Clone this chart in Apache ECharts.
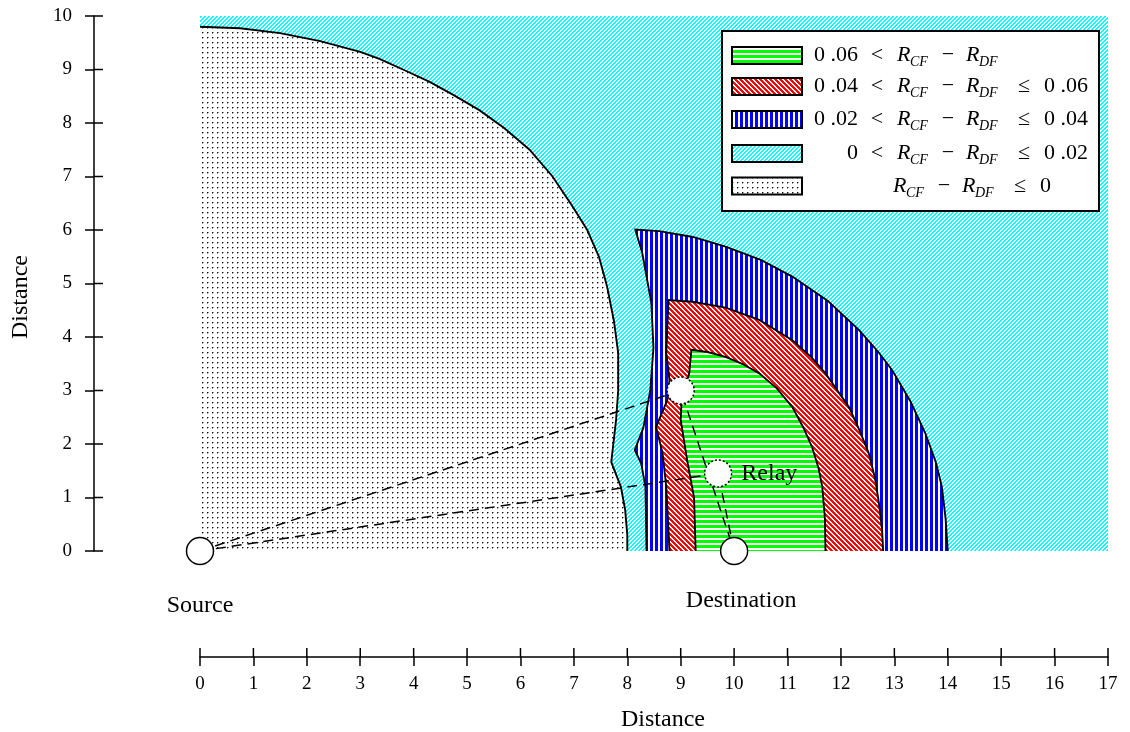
<!DOCTYPE html>
<html><head><meta charset="utf-8">
<script src="https://cdn.jsdelivr.net/npm/echarts/dist/echarts.min.js"></script>
<style>html,body{margin:0;padding:0;background:#fff}#c{width:1130px;height:732px}</style>
</head><body><div id="c"></div>
<script>
// ---------------- data ----------------
const cyanRegion = [[0,0],[0,10],[17,10],[17,0]];
const dottedRegion = [[0,0],[0,9.8],[0.75,9.77],[1.5,9.68],[2.25,9.53],[3.0,9.33],[3.36,9.2],[3.8,9.0],[4.3,8.77],[4.75,8.52],[5.23,8.24],[5.7,7.9],[6.17,7.5],[6.6,7.0],[6.97,6.45],[7.25,6.0],[7.47,5.5],[7.62,4.95],[7.75,4.3],[7.83,3.7],[7.83,3.0],[7.79,2.45],[7.70,1.66],[7.88,1.2],[7.96,0.77],[8.0,0.3],[8.0,0]];
const blueRegion = [[8.36,0],[8.34,1.2],[8.26,1.64],[8.14,1.89],[8.3,2.3],[8.43,3.0],[8.49,3.8],[8.45,4.64],[8.28,5.57],[8.15,6.01],[8.6,5.98],[9.23,5.87],[9.84,5.69],[10.5,5.44],[11.09,5.13],[11.75,4.68],[12.34,4.13],[12.7,3.72],[12.96,3.38],[13.3,2.8],[13.58,2.2],[13.78,1.65],[13.89,1.2],[13.96,0.6],[14.0,0]];
const redRegion = [[8.79,0],[8.73,1.2],[8.66,1.83],[8.54,2.32],[8.75,2.82],[8.79,3.2],[8.73,3.7],[8.77,4.69],[9.22,4.66],[9.84,4.55],[10.47,4.32],[11.09,3.94],[11.45,3.62],[11.71,3.32],[12.15,2.69],[12.35,2.25],[12.52,1.83],[12.64,1.35],[12.71,0.9],[12.77,0.4],[12.79,0]];
const greenRegion = [[9.28,0],[9.25,1.0],[9.12,1.7],[9.0,2.45],[9.02,2.88],[9.16,3.32],[9.2,3.76],[9.5,3.72],[9.84,3.63],[10.15,3.5],[10.47,3.32],[10.8,3.04],[11.09,2.69],[11.3,2.3],[11.46,1.94],[11.58,1.55],[11.65,1.2],[11.7,0.6],[11.71,0]];
const nodeX = [0, 9, 9.7, 10];
const nodeY = [0, 3, 1.45, 0];
const nodeLabels = ['Source', '', 'Relay', 'Destination'];
const nodeDashedBorder = [false, true, true, false];
const pathViaRelay1 = [[0,0],[9,3],[10,0]];
const pathViaRelay2 = [[0,0],[9.7,1.45],[10,0]];
const xTickValues = [0,1,2,3,4,5,6,7,8,9,10,11,12,13,14,15,16,17];
const yTickValues = [0,1,2,3,4,5,6,7,8,9,10];
const legendLow  = ['0 .06','0 .04','0 .02','0',''];
const legendHigh = ['','0 .06','0 .04','0 .02','0'];
const legendKeys = ['green','red','blue','cyan','dots'];
const axisTitle = 'Distance';

// ---------------- patterns ----------------
function makePattern(w, h, fn) {
  const c = document.createElement('canvas');
  c.width = w; c.height = h;
  const ctx = c.getContext('2d');
  ctx.fillStyle = '#fff'; ctx.fillRect(0, 0, w, h);
  for (let y = 0; y < h; y++) for (let x = 0; x < w; x++) {
    const col = fn(x, y);
    if (col) { ctx.fillStyle = col; ctx.fillRect(x, y, 1, 1); }
  }
  return { image: c, repeat: 'repeat' };
}
const PAT = {
  cyan: makePattern(4, 4, (x, y) => ((x + y) % 4 < 2 ? '#00ffff' : null)),
  red: makePattern(5, 5, (x, y) => (((x - y + 10) % 5) < 3 ? '#ff0000' : null)),
  blue: makePattern(5, 1, (x) => (x % 5 < 3 ? '#0000ff' : null)),
  green: makePattern(1, 5, (x, y) => (y % 5 < 3 ? '#00ff00' : null)),
  dots: makePattern(5, 5, (x, y) => (x === 2 && y === 2 ? '#111' : ((x === 3 && y === 2) || (x === 2 && y === 3)) ? '#999' : null))
};

const FONT = 'Liberation Serif';
const AX_OFFSET = 106, TICK = 9;

function regionSeries(name, pts, pattern, strokeFrom, z) {
  return {
    type: 'custom', name, data: pts, z, silent: true, clip: false,
    renderItem(params, api) {
      if (params.dataIndex !== 0) return null;
      const px = pts.map(p => api.coord(p));
      const children = [{ type: 'polygon', shape: { points: px }, style: { fill: pattern } }];
      if (strokeFrom !== null) {
        children.push({ type: 'polyline', shape: { points: px.slice(strokeFrom) },
          style: { stroke: '#000', lineWidth: 1.9, fill: null, lineJoin: 'miter' } });
      }
      return { type: 'group', children };
    }
  };
}
// inward half of the crossing ticks on the offset axes
function innerTicks(values, isX) {
  return {
    type: 'custom', data: values.map(v => (isX ? [v, 0] : [0, v])), z: 20, silent: true, clip: false,
    renderItem(params, api) {
      const p = api.coord([api.value(0), api.value(1)]);
      const shape = isX
        ? { x1: p[0], y1: p[1] + AX_OFFSET - TICK, x2: p[0], y2: p[1] + AX_OFFSET }
        : { x1: p[0] - AX_OFFSET, y1: p[1], x2: p[0] - AX_OFFSET + TICK, y2: p[1] };
      return { type: 'line', shape, style: { stroke: '#000', lineWidth: 1.5 } };
    }
  };
}

// ---------------- legend (graphic) ----------------
const rowY = [55.5, 86.5, 119.5, 153.5, 186];
const gEls = [];
gEls.push({ type: 'rect', shape: { x: 722, y: 31, width: 377, height: 180 },
  style: { fill: '#fff', stroke: '#000', lineWidth: 2 }, z: 100 });
const txt = (x, y, text, size, italic, align) => ({
  type: 'text', x, y, z: 101,
  style: { text, fontSize: size, fontFamily: FONT, fontStyle: italic ? 'italic' : 'normal',
    fill: '#000', align: align, verticalAlign: 'middle' }
});
legendKeys.forEach((k, i) => {
  const cy = rowY[i];
  gEls.push({ type: 'rect', shape: { x: 732, y: cy - 8.5, width: 70, height: 17 },
    style: { fill: PAT[k], stroke: '#000', lineWidth: 2 }, z: 101 });
  const sh = legendLow[i] ? 0 : -4;
  if (legendLow[i]) {
    gEls.push(txt(858, cy, legendLow[i], 22, false, 'right'));
    gEls.push(txt(877, cy, '<', 22, false, 'center'));
  }
  gEls.push(txt(897 + sh, cy, 'R', 22, true, 'left'));
  gEls.push(txt(910 + sh, cy + 7, 'CF', 14, true, 'left'));
  gEls.push(txt(948 + sh, cy, '\u2212', 22, false, 'center'));
  gEls.push(txt(966 + sh, cy, 'R', 22, true, 'left'));
  gEls.push(txt(979 + sh, cy + 7, 'DF', 14, true, 'left'));
  if (legendHigh[i]) {
    gEls.push(txt(1024 + sh, cy, '\u2264', 22, false, 'center'));
    gEls.push(txt(1044 + sh, cy, legendHigh[i], 22, false, 'left'));
  }
});
gEls.push({ type: 'text', x: 663, y: 720, z: 101,
  style: { text: axisTitle, fontSize: 24, fontFamily: FONT, fill: '#000', align: 'center', verticalAlign: 'middle' } });
gEls.push({ type: 'text', x: 21, y: 297, rotation: Math.PI / 2, z: 101,
  style: { text: axisTitle, fontSize: 24, fontFamily: FONT, fill: '#000', align: 'center', verticalAlign: 'middle' } });

// ---------------- axes ----------------
const axLine = { color: '#000', width: 1.5 };
const option = {
  animation: false,
  backgroundColor: '#fff',
  grid: { left: 200, right: 22, top: 16, bottom: 181, containLabel: false, outerBoundsMode: 'none' },
  xAxis: { type: 'value', min: 0, max: 17, interval: 1, position: 'bottom', offset: AX_OFFSET,
    axisLine: { show: true, onZero: false, lineStyle: axLine },
    axisTick: { show: true, length: TICK, lineStyle: axLine },
    axisLabel: { margin: 18, fontFamily: FONT, fontSize: 19, color: '#000' },
    splitLine: { show: false } },
  yAxis: { type: 'value', min: 0, max: 10, interval: 1, position: 'left', offset: AX_OFFSET,
    axisLine: { show: true, onZero: false, lineStyle: axLine },
    axisTick: { show: true, length: TICK, lineStyle: axLine },
    axisLabel: { margin: 22, fontFamily: FONT, fontSize: 19, color: '#000' },
    splitLine: { show: false } },
  graphic: { elements: gEls },
  series: [
    regionSeries('cyan', cyanRegion, PAT.cyan, null, 1),
    regionSeries('dots', dottedRegion, PAT.dots, 1, 2),
    regionSeries('blue', blueRegion, PAT.blue, 0, 3),
    regionSeries('red', redRegion, PAT.red, 0, 4),
    regionSeries('green', greenRegion, PAT.green, 0, 5),
    { type: 'line', data: pathViaRelay1, symbol: 'none', lineStyle: { color: '#000', width: 1.5, type: [10, 6] }, z: 6, silent: true, clip: false },
    { type: 'line', data: pathViaRelay2, symbol: 'none', lineStyle: { color: '#000', width: 1.5, type: [10, 6] }, z: 6, silent: true, clip: false },
    { type: 'scatter', z: 10, silent: true, clip: false, symbolSize: 27,
      itemStyle: { color: '#fff', borderColor: '#000', borderWidth: 1.5, opacity: 1 },
      data: nodeX.map((x, i) => {
        const lab = { show: !!nodeLabels[i], formatter: nodeLabels[i], fontFamily: FONT, fontSize: 24, color: '#000' };
        if (i === 0) Object.assign(lab, { position: 'bottom', distance: 28 });
        if (i === 3) Object.assign(lab, { position: 'bottom', distance: 23, offset: [7, 0] });
        if (i === 2) Object.assign(lab, { position: 'right', distance: 9 });
        return { value: [x, nodeY[i]], label: lab,
          itemStyle: { borderType: nodeDashedBorder[i] ? [2, 2] : 'solid' } };
      })
    },
    innerTicks(xTickValues, true),
    innerTicks(yTickValues, false)
  ]
};
const chart = echarts.init(document.getElementById('c'), null, { renderer: 'canvas' });
chart.setOption(option);
</script>
</body></html>
